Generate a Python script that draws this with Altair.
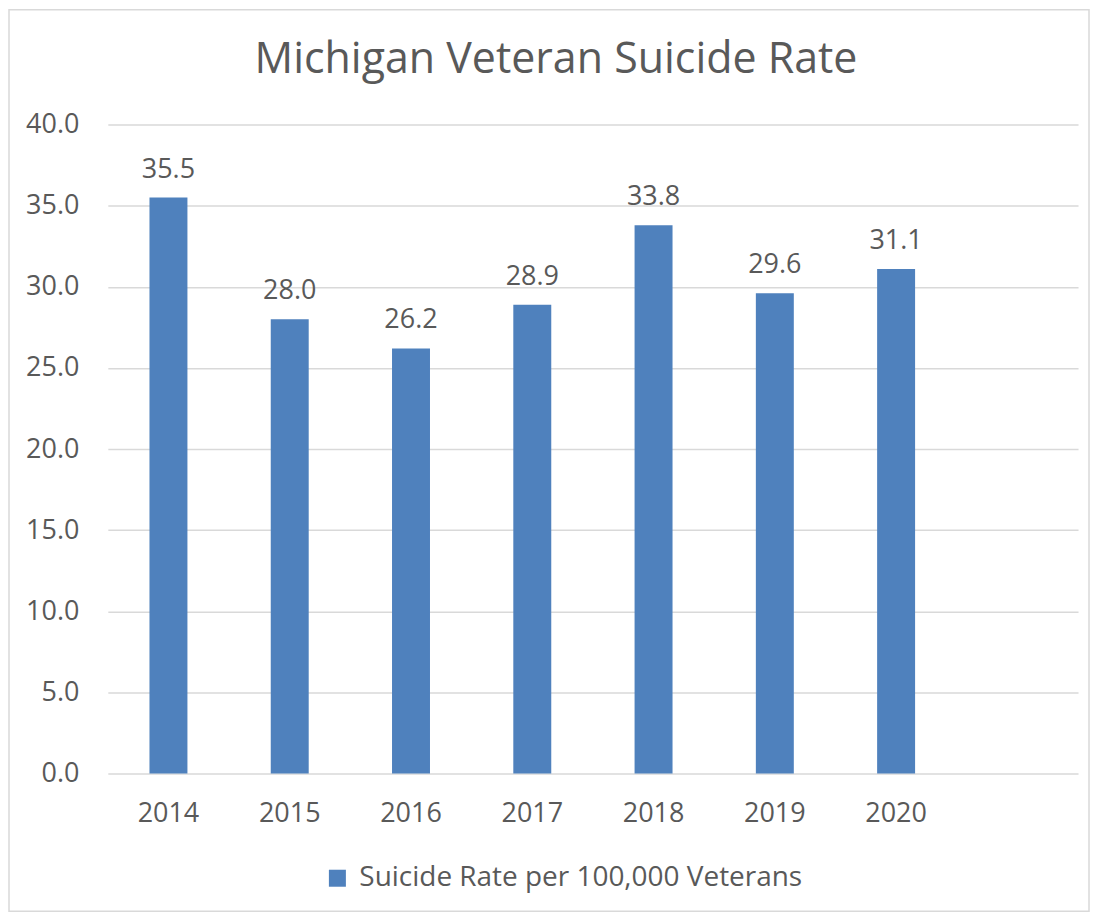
import altair as alt
import pandas as pd

years = ["2014", "2015", "2016", "2017", "2018", "2019", "2020"]
rates = [35.5, 28.0, 26.2, 28.9, 33.8, 29.6, 31.1]
domain_slots = years + [" "]
series_name = "Suicide Rate per 100,000 Veterans"
y_ticks = [0, 5, 10, 15, 20, 25, 30, 35, 40]

df = pd.DataFrame({"year": years, "rate": rates, "series": [series_name] * len(years)})

FONT = "Open Sans"
GREY = "#595959"
BLUE = "#4F81BD"
FS = 27

x_enc = alt.X(
    "year:N",
    scale=alt.Scale(domain=domain_slots, paddingInner=0.687, paddingOuter=0.3435),
    axis=alt.Axis(title=None, labelAngle=0, labelFontSize=FS, labelColor=GREY, labelFont=FONT,
                  labelPadding=27, ticks=False, domain=False, grid=False),
)
y_enc = alt.Y(
    "rate:Q",
    scale=alt.Scale(domain=[0, 40], nice=False),
    axis=alt.Axis(title=None, values=y_ticks, format=".1f", labelFontSize=FS, labelColor=GREY,
                  labelFont=FONT, labelPadding=29, ticks=False, domain=False,
                  gridColor="#D9D9D9", gridWidth=1.5),
)

bars = alt.Chart(df).mark_bar(color=BLUE).encode(
    x=x_enc,
    y=y_enc,
    color=alt.Color("series:N", scale=alt.Scale(domain=[series_name], range=[BLUE]),
                    legend=alt.Legend(title=None, orient="none", legendX=216, legendY=741,
                                      symbolType="square", symbolSize=290, labelFontSize=28,
                                      labelColor=GREY, labelFont=FONT, labelLimit=700,
                                      labelOffset=8, symbolStrokeWidth=0)),
)

labels = alt.Chart(df).mark_text(dy=-20, baseline="alphabetic", fontSize=FS, color=GREY, font=FONT).encode(
    x=alt.X("year:N", scale=alt.Scale(domain=domain_slots)),
    y="rate:Q",
    text=alt.Text("rate:Q", format=".1f"),
)

border_df = pd.DataFrame({"b": [0]})
border = alt.Chart(border_df).mark_rect(fillOpacity=0, fill="white", stroke="#D9D9D9", strokeWidth=1.5).encode(
    x=alt.value(-99), x2=alt.value(983), y=alt.value(-115), y2=alt.value(788)
)

chart = alt.layer(border, bars, labels).properties(
    width=972,
    height=650,
    title=alt.TitleParams("Michigan Veteran Suicide Rate", fontSize=43, font=FONT,
                          color=GREY, fontWeight="normal", anchor="middle", frame="group",
                          baseline="alphabetic", offset=0, dy=107, dx=-37),
    padding={"left": 100, "top": 116, "right": 12, "bottom": 140},
    autosize=alt.AutoSizeParams(type="none"),
).configure_view(stroke=None)

chart.save("out.html", embed_options={"renderer": "svg", "actions": False})
